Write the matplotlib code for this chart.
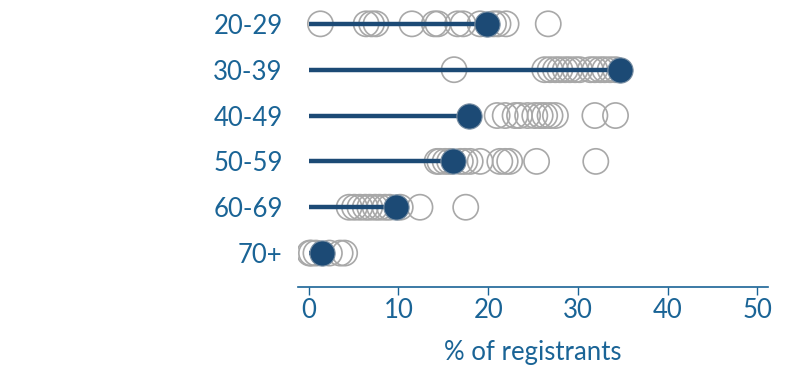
import matplotlib
matplotlib.use("Agg")
import matplotlib.pyplot as plt

plt.rcParams['font.family'] = ['Lato', 'DejaVu Sans']

age_groups = ['20-29', '30-39', '40-49', '50-59', '60-69', '70+']

# share of registrants per age group (open circles = individual sources)
points = [
    [1.3, 6.4, 7.0, 7.5, 11.5, 14.0, 14.4, 16.6, 17.2, 19.1, 20.6, 21.1, 22.0, 26.7],
    [16.2, 26.3, 26.9, 27.5, 28.0, 28.6, 29.1, 29.7, 30.2, 31.4, 31.9, 32.5, 33.0, 33.6, 34.2],
    [21.0, 21.9, 23.0, 23.5, 24.4, 25.2, 25.8, 26.3, 26.9, 27.5, 31.9, 34.2],
    [14.3, 14.6, 15.2, 15.7, 16.9, 17.4, 18.0, 19.1, 21.3, 21.9, 22.4, 25.4, 32.0],
    [4.5, 5.1, 5.7, 6.3, 6.8, 7.4, 7.9, 8.5, 9.0, 10.2, 12.4, 17.5],
    [0.1, 0.3, 0.8, 2.3, 3.5, 4.0],
]
# highlighted value
highlight = [19.9, 34.7, 17.9, 16.1, 9.7, 1.5]

text_color = '#1a6496'
dark = '#1c4a75'

fig = plt.figure(figsize=(8, 3.78), dpi=100)
ax = fig.add_axes([0.3725, 0.2407, 0.5875, 0.7593])

n = len(age_groups)
ypos = [n - 1 - i for i in range(n)]

for i in range(n):
    y = ypos[i]
    ax.scatter(points[i], [y] * len(points[i]), s=330, facecolors='none',
               edgecolors='#a8a8a8', linewidths=1.2, zorder=2)
    ax.plot([0, highlight[i]], [y, y], color=dark, lw=3.2, zorder=3,
            solid_capstyle='butt')
    ax.scatter([highlight[i]], [y], s=330, color=dark, edgecolors='#7a8fa3',
               linewidths=0.8, zorder=4)

ax.set_xlim(-1.2, 51.2)
ax.set_ylim(-0.74, 5.52)
ax.set_yticks(ypos)
ax.set_yticklabels(age_groups)
ax.set_xticks([0, 10, 20, 30, 40, 50])

for s in ['top', 'right', 'left']:
    ax.spines[s].set_visible(False)
ax.spines['bottom'].set_color(text_color)
ax.spines['bottom'].set_linewidth(1.2)

ax.tick_params(axis='y', length=0, pad=11, labelsize=18.5, labelcolor=text_color)
ax.tick_params(axis='x', length=6, width=1, color=text_color, pad=2,
               labelsize=18.5, labelcolor=text_color)
ax.set_xlabel('% of registrants', fontsize=18.5, color=text_color, labelpad=12)

fig.savefig('out.png', dpi=100)
